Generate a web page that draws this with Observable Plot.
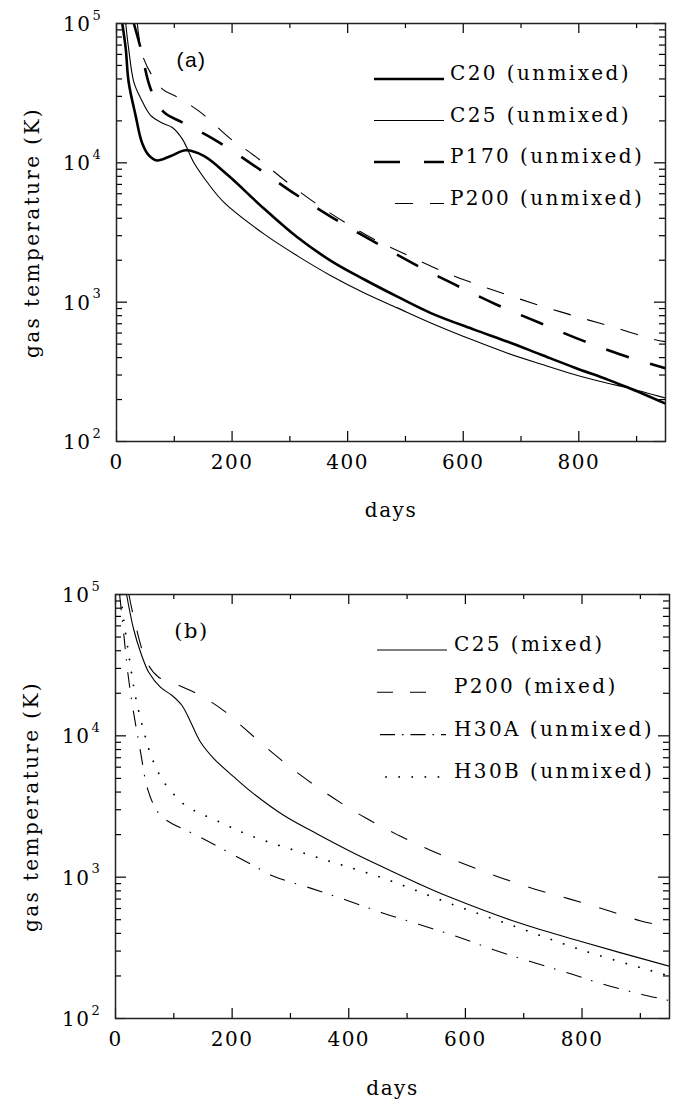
<!DOCTYPE html>
<html><head><meta charset="utf-8">
<script src="https://cdn.jsdelivr.net/npm/d3@7"></script>
<script src="https://cdn.jsdelivr.net/npm/@observablehq/plot@0.6"></script>
<style>
html,body{margin:0;padding:0;background:#fff;}
#chart{width:694px;height:1105px;position:relative;background:#fff;}
#chart svg{display:block;}
</style></head><body><div id="chart"></div>
<script>
// ---------- axis ticks ----------
const xMajor = [0, 200, 400, 600, 800];
const xMinor = [100, 300, 500, 700, 900];
const xLabels = ["0", "200", "400", "600", "800"];
const yMajor = [100, 1000, 10000, 100000];
const yExp = ["2", "3", "4", "5"];
const yMinor = [200, 300, 400, 500, 600, 700, 800, 900,
  2000, 3000, 4000, 5000, 6000, 7000, 8000, 9000,
  20000, 30000, 40000, 50000, 60000, 70000, 80000, 90000];

// ---------- panel (a): unmixed ----------
const c20Days = [10, 16, 21, 33, 44, 56, 70, 94, 120, 151, 192, 255, 313, 371, 428, 486, 544, 619, 677, 734, 792, 850, 884, 950];
const c20Temp = [100000, 66000, 38000, 21900, 14000, 11300, 10400, 11200, 12300, 11200, 8200, 4700, 2920, 1980, 1460, 1095, 835, 635, 520, 421, 340, 278, 245, 187];
const c25uDays = [16, 21, 30, 42, 59, 80, 96, 114, 134, 157, 186, 255, 313, 371, 428, 486, 544, 619, 677, 734, 792, 850, 884, 950];
const c25uTemp = [100000, 66000, 38000, 29000, 21900, 19200, 18000, 14800, 10000, 7250, 5200, 3090, 2150, 1550, 1170, 910, 710, 530, 430, 360, 303, 262, 243, 205];
const p170Days = [30, 42, 59, 82, 113, 168, 238, 304, 372, 443, 513, 585, 659, 734, 809, 885, 950];
const p170Temp = [100000, 66000, 34000, 23100, 19600, 14800, 9560, 6170, 4080, 2750, 1900, 1340, 955, 705, 525, 404, 335];
const p200uDays = [36, 47, 79, 105, 145, 198, 238, 291, 343, 397, 451, 507, 565, 625, 684, 744, 805, 864, 924, 950];
const p200uTemp = [100000, 56000, 34000, 29700, 23100, 14800, 11300, 7500, 5180, 3700, 2750, 2140, 1660, 1335, 1100, 915, 769, 655, 548, 520];
const legendA = ["C20 (unmixed)", "C25 (unmixed)", "P170 (unmixed)", "P200 (unmixed)"];

// ---------- panel (b): mixed + H30 ----------
const c25mDays = [19, 31, 43, 57, 77, 97, 114, 129, 146, 169, 203, 235, 289, 346, 403, 460, 517, 574, 689, 803, 950];
const c25mTemp = [100000, 57000, 39000, 28200, 22100, 19300, 16400, 12500, 9010, 6880, 5120, 3950, 2730, 2020, 1520, 1170, 910, 720, 479, 346, 234];
const p200mDays = [23, 32, 54, 74, 103, 134, 160, 189, 223, 271, 321, 373, 427, 483, 540, 598, 658, 718, 778, 840, 901, 950];
const p200mTemp = [100000, 67000, 33000, 26000, 23300, 20400, 17800, 14700, 11100, 7480, 5140, 3650, 2650, 2000, 1550, 1240, 1000, 826, 702, 589, 490, 442];
const h30aDays = [7, 9, 15, 21, 30, 42, 55, 70, 85, 146, 230, 270, 333, 395, 458, 521, 584, 647, 710, 776, 838, 903, 950];
const h30aTemp = [100000, 84000, 48500, 28200, 15500, 8100, 4220, 3000, 2570, 1910, 1250, 1020, 840, 690, 558, 462, 382, 308, 254, 210, 174, 148, 134];
const h30bDays = [9, 11, 23, 34, 49, 63, 83, 111, 123, 184, 231, 346, 460, 574, 689, 803, 950];
const h30bTemp = [100000, 83000, 37000, 19300, 10600, 6880, 4700, 3470, 3150, 2400, 1970, 1380, 980, 650, 442, 302, 200];
const legendB = ["C25 (mixed)", "P200 (mixed)", "H30A (unmixed)", "H30B (unmixed)"];

const yTitle = "gas temperature (K)";
const xTitle = "days";

// ---------- styles ----------
const FONT = "DejaVu Serif";
const styleA = [
  {w: 2.6, dash: null, lx1: 258, lx2: 328},
  {w: 1.1, dash: null, lx1: 258, lx2: 328},
  {w: 2.6, dash: "24,22", ldash: "26,24", lx1: 258, lx2: 328},
  {w: 1.1, dash: "18,17", ldash: "18,17", lx1: 279, lx2: 328}
];
const styleB = [
  {w: 1.1, dash: null, lx1: 262, lx2: 332},
  {w: 1.1, dash: "18,19", ldash: "16,17", lx1: 262, lx2: 315},
  {w: 1.1, dash: "16,10,1.5,11.5", ldash: "15,7,1.5,7", lx1: 265, lx2: 331},
  {w: 1.8, dash: "0.1,13", ldash: "0.1,13", lx1: 271, lx2: 327, round: true}
];

function toRows(days, temp) { return days.map((d, i) => ({d, t: temp[i]})); }

function legendMark(labels, styles, pos) {
  return (index, scales, values, dims) => {
    const g = d3.create("svg:g");
    const ml = dims.marginLeft, mt = dims.marginTop;
    labels.forEach((lab, i) => {
      const s = styles[i];
      const y = mt + pos.top + i * pos.step;
      g.append("line")
        .attr("x1", ml + s.lx1).attr("x2", ml + s.lx2)
        .attr("y1", y).attr("y2", y)
        .attr("stroke", "#000").attr("stroke-width", s.w)
        .attr("stroke-linecap", s.round ? "round" : "butt")
        .attr("stroke-dasharray", s.ldash || null);
      g.append("text")
        .attr("x", ml + pos.textX).attr("y", y + 1)
        .attr("text-anchor", "start")
        .attr("font-family", FONT).attr("font-size", 20)
        .attr("letter-spacing", 2.4).attr("fill", "#000")
        .text(lab);
    });
    return g.node();
  };
}

function panel(opts) {
  const {series, styles, labels, tag, height, mt, mb, ml, mr, legendPos, tagDx, tagFont} = opts;
  const frameH = height - mt - mb;
  const frameW = 694 - ml - mr;
  const marks = [];
  series.forEach((rows, i) => {
    const s = styles[i];
    marks.push(Plot.line(rows, {
      x: "d", y: "t", stroke: "#000", strokeWidth: s.w,
      strokeDasharray: s.dash || undefined,
      strokeLinecap: s.round ? "round" : "butt",
      curve: "catmull-rom", clip: true
    }));
  });
  const tk = {stroke: "#000", strokeWidth: 1.2};
  marks.push(Plot.ruleX(xMajor, {x: d => d, insetTop: frameH - 10, ...tk}));
  marks.push(Plot.ruleX(xMajor, {x: d => d, insetBottom: frameH - 10, ...tk}));
  marks.push(Plot.ruleX(xMinor, {x: d => d, insetTop: frameH - 5, ...tk}));
  marks.push(Plot.ruleX(xMinor, {x: d => d, insetBottom: frameH - 5, ...tk}));
  marks.push(Plot.ruleY(yMajor, {y: d => d, insetRight: frameW - 11, ...tk}));
  marks.push(Plot.ruleY(yMajor, {y: d => d, insetLeft: frameW - 11, ...tk}));
  marks.push(Plot.ruleY(yMinor, {y: d => d, insetRight: frameW - 6, ...tk}));
  marks.push(Plot.ruleY(yMinor, {y: d => d, insetLeft: frameW - 6, ...tk}));
  marks.push(Plot.frame({stroke: "#222", strokeWidth: 1.5}));
  marks.push(Plot.text(xMajor, {x: d => d, frameAnchor: "bottom", dy: 21, text: (d, i) => xLabels[i],
    fontFamily: FONT, fontSize: 20, textAnchor: "middle", lineAnchor: "middle", fill: "#000"}));
  marks.push(Plot.text(yMajor, {y: d => d, frameAnchor: "left", dx: -25, dy: 1, text: () => "10",
    fontFamily: FONT, fontSize: 20, textAnchor: "end", lineAnchor: "middle", fill: "#000"}));
  marks.push(Plot.text(yMajor, {y: d => d, frameAnchor: "left", dx: -24, dy: -8, text: (d, i) => yExp[i],
    fontFamily: FONT, fontSize: 13, textAnchor: "start", lineAnchor: "middle", fill: "#000"}));
  marks.push(Plot.text([xTitle], {frameAnchor: "bottom", dy: opts.daysDy, text: d => d,
    fontFamily: FONT, fontSize: 20, textAnchor: "middle", lineAnchor: "middle", fill: "#000"}));
  marks.push(Plot.text([yTitle], {frameAnchor: "left", dx: -84, rotate: -90, text: d => d,
    fontFamily: FONT, fontSize: 20, textAnchor: "middle", lineAnchor: "middle", fill: "#000"}));
  marks.push(Plot.text([tag], {frameAnchor: "top-left", dx: tagDx, dy: 37, text: d => d,
    fontFamily: tagFont, fontSize: 21, textAnchor: "middle", lineAnchor: "middle", fill: "#000"}));
  marks.push(legendMark(labels, styles, legendPos));

  const svg = Plot.plot({
    width: 694, height,
    marginTop: mt, marginBottom: mb, marginLeft: ml, marginRight: mr,
    x: {domain: [0, 950], axis: null},
    y: {type: "log", domain: [100, 100000], axis: null},
    style: {background: "#fff", overflow: "visible", fontFamily: FONT, letterSpacing: "1.5px"},
    marks
  });
  d3.select(svg).selectAll("text")
    .filter(function() { return this.textContent === yTitle; })
    .attr("letter-spacing", 2.4).attr("font-family", FONT).style("font-family", FONT);
  return svg;
}

const svgA = panel({
  series: [toRows(c20Days, c20Temp), toRows(c25uDays, c25uTemp), toRows(p170Days, p170Temp), toRows(p200uDays, p200uTemp)],
  styles: styleA, labels: legendA, tag: "(a)", tagDx: 75, tagFont: "Liberation Sans",
  height: 552, mt: 23, mb: 111, ml: 116, mr: 29, daysDy: 69,
  legendPos: {top: 56, step: 41.5, textX: 334}
});
const svgB = panel({
  series: [toRows(c25mDays, c25mTemp), toRows(p200mDays, p200mTemp), toRows(h30aDays, h30aTemp), toRows(h30bDays, h30bTemp)],
  styles: styleB, labels: legendB, tag: "(b)", tagDx: 76, tagFont: FONT,
  height: 553, mt: 42, mb: 87, ml: 115, mr: 25, daysDy: 70,
  legendPos: {top: 56, step: 42.3, textX: 339}
});
const root = document.getElementById("chart");
root.appendChild(svgA);
root.appendChild(svgB);
</script></body></html>
